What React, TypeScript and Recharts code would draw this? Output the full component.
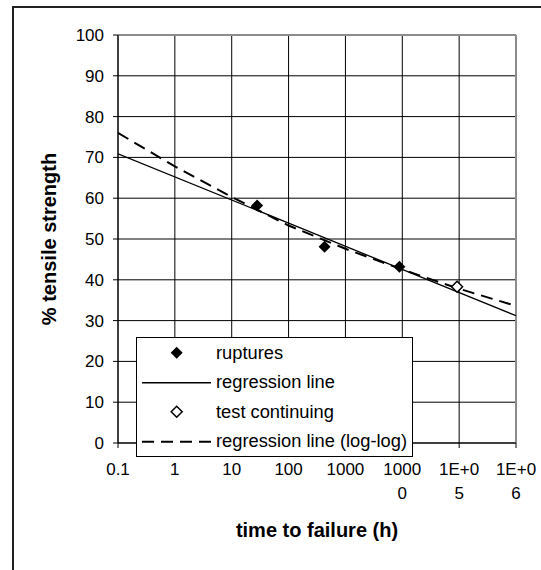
import React from 'react';
import {
  CartesianGrid,
  ComposedChart,
  Label,
  Legend,
  Line,
  ReferenceLine,
  Scatter,
  XAxis,
  YAxis,
} from 'recharts';

const FONT = '"Liberation Sans", Arial, sans-serif';
const TICK_FONT = 17;

// log time axis, one tick per decade; Excel wrapped the wide labels onto two lines
const xTickValues = [0.1, 1, 10, 100, 1000, 10000, 100000, 1000000];
const xTickLabels = [['0.1'], ['1'], ['10'], ['100'], ['1000'], ['1000', '0'], ['1E+0', '5'], ['1E+0', '6']];
const yTickValues = [0, 10, 20, 30, 40, 50, 60, 70, 80, 90, 100];

const ruptureHours = [28, 430, 8900];
const ruptureStrength = [58.2, 48.1, 43.2];

const continuingHours = [92000];
const continuingStrength = [38.3];

const regressionHours = [0.1, 1000000];
const regressionStrength = [70.9, 31.2];

const logLogHours = [0.1, 1, 10, 100, 1000, 10000, 100000, 1000000];
const logLogStrength = [76, 67.8, 60.3, 53.3, 47.6, 42.5, 37.8, 33.6];

const legendItems = [
  { label: 'ruptures', icon: 'filled' },
  { label: 'regression line', icon: 'solid' },
  { label: 'test continuing', icon: 'open' },
  { label: 'regression line (log-log)', icon: 'dashed' },
];

const zipPoints = (xs: number[], ys: number[]) => xs.map((x, i) => ({ x, y: ys[i] }));

const ruptures = zipPoints(ruptureHours, ruptureStrength);
const continuing = zipPoints(continuingHours, continuingStrength);
const regression = zipPoints(regressionHours, regressionStrength);
const logLog = zipPoints(logLogHours, logLogStrength);

const DASH = '12 7';

const diamondPath = (cx: number, cy: number, r: number) =>
  `M${cx},${cy - r}L${cx + r},${cy}L${cx},${cy + r}L${cx - r},${cy}Z`;

const FilledDiamond = ({ cx, cy }: any) => <path d={diamondPath(cx, cy, 6)} fill="#000" />;

const OpenDiamond = ({ cx, cy }: any) => (
  <path d={diamondPath(cx, cy, 5.5)} fill="#fff" stroke="#000" strokeWidth={1.5} />
);

const XTick = ({ x, y, payload }: any) => {
  const lines = xTickLabels[xTickValues.indexOf(payload.value)] ?? [];
  return (
    <text x={x} y={y} textAnchor="middle" fontSize={TICK_FONT} fill="#000" fontFamily={FONT}>
      {lines.map((t, i) => (
        <tspan key={i} x={x} dy={i === 0 ? 27 : 24}>
          {t}
        </tspan>
      ))}
    </text>
  );
};

const YTitle = ({ viewBox }: any) => {
  const x = viewBox.x + viewBox.width - 62;
  const y = viewBox.y + viewBox.height / 2;
  return (
    <text
      x={x}
      y={y}
      transform={`rotate(-90 ${x} ${y})`}
      textAnchor="middle"
      fontSize={20}
      fontWeight="bold"
      fill="#000"
      fontFamily={FONT}
    >
      % tensile strength
    </text>
  );
};

const XTitle = ({ viewBox }: any) => (
  <text
    x={viewBox.x + viewBox.width / 2}
    y={viewBox.y + 94}
    textAnchor="middle"
    fontSize={20}
    fontWeight="bold"
    fill="#000"
    fontFamily={FONT}
  >
    time to failure (h)
  </text>
);

const LegendIcon = ({ icon }: { icon: string }) => (
  <svg width={79} height={29.5} style={{ display: 'block', flex: 'none' }}>
    {icon === 'filled' && <path d={diamondPath(39.7, 14.75, 6)} fill="#000" />}
    {icon === 'open' && (
      <path d={diamondPath(39.7, 14.75, 5.5)} fill="#fff" stroke="#000" strokeWidth={1.5} />
    )}
    {icon === 'solid' && <line x1={5} x2={74} y1={14.75} y2={14.75} stroke="#000" strokeWidth={1.3} />}
    {icon === 'dashed' && (
      <line x1={5} x2={74} y1={14.75} y2={14.75} stroke="#000" strokeWidth={2} strokeDasharray={DASH} />
    )}
  </svg>
);

const LegendBox = () => (
  <div style={{ width: 275, border: '1px solid #000', background: '#fff', fontFamily: FONT }}>
    {legendItems.map((item) => (
      <div key={item.label} style={{ height: 29.5, display: 'flex', alignItems: 'center' }}>
        <LegendIcon icon={item.icon} />
        <span style={{ fontSize: 18.3, color: '#000', whiteSpace: 'nowrap' }}>{item.label}</span>
      </div>
    ))}
  </div>
);

export default function App() {
  return (
    <div style={{ position: 'relative', width: 541, height: 570, overflow: 'hidden', background: '#fff' }}>
      <style>{'body { margin: 0; }'}</style>
      <div
        style={{
          position: 'absolute',
          left: 12,
          top: 6,
          width: 700,
          height: 700,
          borderLeft: '2px solid #222',
          borderTop: '2px solid #222',
        }}
      />
      <ComposedChart
        width={541}
        height={570}
        margin={{ top: 35, right: 25, bottom: 87, left: 10 }}
        style={{ position: 'absolute', left: 0, top: 0, fontFamily: FONT }}
      >
        <CartesianGrid stroke="#000" strokeWidth={1} />
        <XAxis
          type="number"
          dataKey="x"
          scale="log"
          domain={[0.1, 1000000]}
          allowDataOverflow
          ticks={xTickValues}
          interval={0}
          height={40}
          tickSize={5}
          tickMargin={0}
          axisLine={{ stroke: '#000' }}
          tickLine={{ stroke: '#000' }}
          tick={<XTick />}
        >
          <Label content={XTitle} />
        </XAxis>
        <YAxis
          type="number"
          dataKey="y"
          domain={[0, 100]}
          ticks={yTickValues}
          interval={0}
          width={108}
          tickSize={5}
          tickMargin={9}
          axisLine={{ stroke: '#000' }}
          tickLine={{ stroke: '#000' }}
          tick={{ fill: '#000', fontSize: TICK_FONT, fontFamily: FONT }}
        >
          <Label content={YTitle} />
        </YAxis>
        <ReferenceLine y={100} stroke="#8c8c8c" strokeWidth={2} />
        <ReferenceLine x={1000000} stroke="#8c8c8c" strokeWidth={2} />
        <Line
          data={regression}
          dataKey="y"
          type="linear"
          stroke="#000"
          strokeWidth={1.3}
          dot={false}
          activeDot={false}
          isAnimationActive={false}
        />
        <Line
          data={logLog}
          dataKey="y"
          type="linear"
          stroke="#000"
          strokeWidth={2}
          strokeDasharray={DASH}
          dot={false}
          activeDot={false}
          isAnimationActive={false}
        />
        <Scatter data={ruptures} dataKey="y" shape={FilledDiamond} isAnimationActive={false} />
        <Scatter data={continuing} dataKey="y" shape={OpenDiamond} isAnimationActive={false} />
        <Legend
          layout="vertical"
          align="center"
          verticalAlign="middle"
          content={<LegendBox />}
          wrapperStyle={{ left: 136, top: 337, right: 'auto', bottom: 'auto', width: 'auto', height: 'auto' }}
        />
      </ComposedChart>
    </div>
  );
}
